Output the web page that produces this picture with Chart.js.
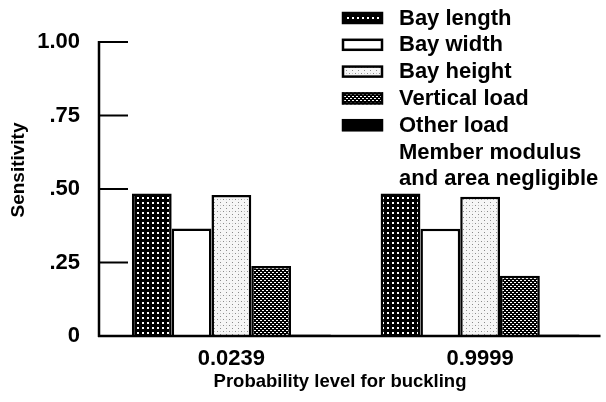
<!DOCTYPE html>
<html>
<head>
<meta charset="utf-8">
<script src="https://cdn.jsdelivr.net/npm/chart.js@4/dist/chart.umd.min.js"></script>
<style>
  html, body { margin: 0; padding: 0; background: #fff; }
  #wrap { width: 606px; height: 402px; position: relative; }
</style>
</head>
<body>
<div id="wrap"><canvas id="chart"></canvas></div>
<script>
/* Sensitivity of buckling probability — grouped bars */

// ─── Data ────────────────────────────────────────────────────────────────────

const categories = ["0.0239", "0.9999"];
const seriesNames = ["Bay length", "Bay width", "Bay height", "Vertical load", "Other load"];
const bayLength = [0.485, 0.485];
const bayWidth = [0.366, 0.365];
const bayHeight = [0.48, 0.474];
const verticalLoad = [0.238, 0.205];
const otherLoad = [0.005, 0.005];
const yTickValues = [0, 0.25, 0.5, 0.75, 1];
const yTickLabels = ["0", ".25", ".50", ".75", "1.00"];
const noteLines = ["Member modulus", "and area negligible"];
const yTitle = "Sensitivity";
const xTitle = "Probability level for buckling";

const FONT = "'Liberation Sans', Arial, Helvetica, sans-serif";

// ─── Fill patterns ───────────────────────────────────────────────────────────

function makePattern(size, draw) {
  const c = document.createElement("canvas");
  c.width = size;
  c.height = size;
  const g = c.getContext("2d");
  draw(g);
  return g.createPattern(c, "repeat");
}

const pat = {
  // black with a grid of white dots
  length: makePattern(5, (g) => {
    g.fillStyle = "#000"; g.fillRect(0, 0, 5, 5);
    g.fillStyle = "#fff"; g.fillRect(2, 2, 2, 2);
  }),
  width: "#ffffff",
  // light stipple
  height: makePattern(6, (g) => {
    g.fillStyle = "#f6f6f6"; g.fillRect(0, 0, 6, 6);
    g.fillStyle = "#8a8a8a"; g.fillRect(1, 1, 1, 1); g.fillRect(4, 4, 1, 1);
    g.fillStyle = "#c8c8c8"; g.fillRect(4, 1, 1, 1);
  }),
  // dark staggered mesh
  vertical: makePattern(4, (g) => {
    g.fillStyle = "#000"; g.fillRect(0, 0, 4, 4);
    g.fillStyle = "#fff";
    g.fillRect(0, 0, 2, 1); g.fillRect(2, 2, 2, 1);
  }),
  other: "#000000",
};

const seriesValues = [bayLength, bayWidth, bayHeight, verticalLoad, otherLoad];
const seriesFills = [pat.length, pat.width, pat.height, pat.vertical, pat.other];

// ─── Axis frame, titles and legend (drawn on top) ────────────────────────────

const framePlugin = {
  id: "frame",
  afterDraw(chart) {
    const { ctx, chartArea, scales } = chart;
    const y = scales.y;
    const y0 = y.getPixelForValue(0);
    const y1 = y.getPixelForValue(1);
    const axisX = chartArea.left - 8;

    ctx.save();
    ctx.strokeStyle = "#000";
    ctx.lineWidth = 2.5;
    ctx.lineCap = "butt";

    // vertical axis
    ctx.beginPath();
    ctx.moveTo(axisX, y1 - 1);
    ctx.lineTo(axisX, y0 + 1);
    ctx.stroke();

    // baseline
    ctx.beginPath();
    ctx.moveTo(axisX - 1, y0);
    ctx.lineTo(chartArea.right - 4, y0);
    ctx.stroke();

    // inward tick marks
    ctx.lineWidth = 2;
    yTickValues.forEach((v) => {
      if (v === 0) return;
      const py = y.getPixelForValue(v);
      ctx.beginPath();
      ctx.moveTo(axisX, py);
      ctx.lineTo(axisX + 29, py);
      ctx.stroke();
    });

    // axis titles
    ctx.fillStyle = "#000";
    ctx.font = `bold 19px ${FONT}`;
    ctx.textAlign = "center";
    ctx.textBaseline = "middle";
    ctx.save();
    ctx.translate(19, 170);
    ctx.rotate(-Math.PI / 2);
    ctx.fillText(yTitle, 0, 0);
    ctx.restore();

    ctx.font = `bold 18.5px ${FONT}`;
    ctx.textBaseline = "alphabetic";
    ctx.fillText(xTitle, 340, 387);

    // legend
    const rowStart = 24.5;
    const rowStep = 26.8;
    ctx.font = `bold 22px ${FONT}`;
    ctx.textAlign = "left";
    chart.data.datasets.forEach((ds, i) => {
      const base = rowStart + i * rowStep;
      ctx.fillStyle = ds.backgroundColor;
      ctx.fillRect(342, base - 12.5, 41, 12);
      ctx.lineWidth = 2.5;
      ctx.strokeRect(343, base - 11.5, 39, 10);
      ctx.fillStyle = "#000";
      ctx.fillText(ds.label, 399, base);
    });
    noteLines.forEach((line, j) => {
      const base = rowStart + (seriesNames.length + j) * rowStep;
      ctx.fillText(line, 399, base);
    });
    ctx.restore();
  },
};

// ─── Chart ───────────────────────────────────────────────────────────────────

Chart.defaults.color = "#000";
Chart.defaults.font.family = FONT;

new Chart(document.getElementById("chart"), {
  type: "bar",
  data: {
    labels: categories,
    datasets: seriesNames.map((name, i) => ({
      label: name,
      data: seriesValues[i],
      backgroundColor: seriesFills[i],
      borderColor: "#000",
      borderWidth: 2.5,
      borderSkipped: "start",
      categoryPercentage: 0.8,
      barPercentage: 1.0,
    })),
  },
  options: {
    responsive: true,
    maintainAspectRatio: false,
    animation: false,
    layout: { padding: { top: 42, right: 1.5, bottom: 0, left: 0 } },
    plugins: {
      legend: { display: false },
      tooltip: { enabled: false },
    },
    scales: {
      x: {
        grid: { display: false },
        border: { display: false },
        ticks: { font: { size: 22, weight: "bold" }, padding: 2, color: "#000" },
        afterFit(scale) { scale.height = 66; },
      },
      y: {
        min: 0,
        max: 1,
        grid: { display: false },
        border: { display: false },
        afterBuildTicks(scale) { scale.ticks = yTickValues.map((v) => ({ value: v })); },
        ticks: {
          font: { size: 22, weight: "bold" },
          padding: 19,
          color: "#000",
          callback: (v) => yTickLabels[yTickValues.indexOf(v)],
        },
        afterFit(scale) { scale.width = 107; },
      },
    },
  },
  plugins: [framePlugin],
});
</script>
</body>
</html>
